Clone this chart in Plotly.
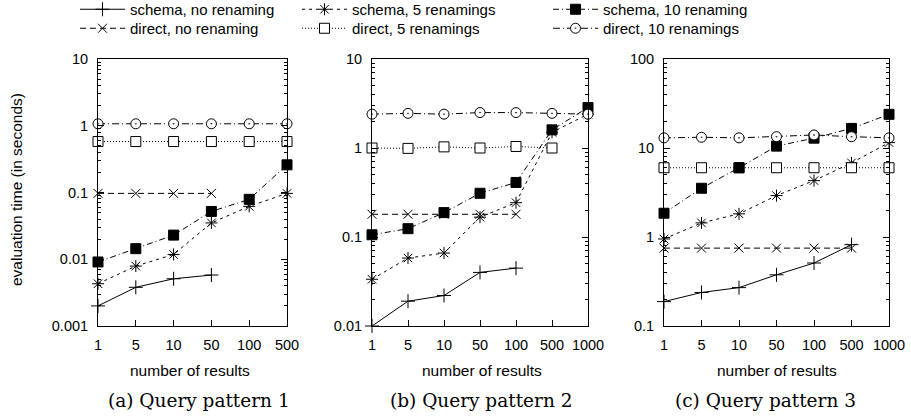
import plotly.graph_objects as go

# ---------------- data ----------------
cats_a = ["1", "5", "10", "50", "100", "500"]
cats_bc = ["1", "5", "10", "50", "100", "500", "1000"]

# panel (a)
schema_none_a = [0.002, 0.0038, 0.0051, 0.0058]
direct_none_a = [0.097, 0.097, 0.097, 0.097]
schema_5_a = [0.0043, 0.0079, 0.0118, 0.035, 0.062, 0.097]
direct_5_a = [0.58, 0.58, 0.58, 0.58, 0.58, 0.58]
schema_10_a = [0.0091, 0.0144, 0.023, 0.052, 0.079, 0.26]
direct_10_a = [1.07, 1.07, 1.07, 1.07, 1.07, 1.07]

# panel (b)
schema_none_b = [0.01, 0.019, 0.022, 0.040, 0.0447]
direct_none_b = [0.18, 0.18, 0.18, 0.18, 0.18]
schema_5_b = [0.0335, 0.058, 0.066, 0.167, 0.243, 1.5, 2.4]
direct_5_b = [1.0, 0.99, 1.03, 1.0, 1.04, 1.0]
schema_10_b = [0.106, 0.124, 0.188, 0.31, 0.41, 1.6, 2.85]
direct_10_b = [2.4, 2.45, 2.4, 2.5, 2.5, 2.45, 2.4]

# panel (c)
schema_none_c = [0.188, 0.238, 0.27, 0.376, 0.51, 0.82]
direct_none_c = [0.75, 0.75, 0.75, 0.75, 0.75, 0.75]
schema_5_c = [0.95, 1.44, 1.82, 2.92, 4.3, 6.8, 11.5]
direct_5_c = [6.0, 6.0, 6.0, 6.0, 6.0, 6.0, 6.0]
schema_10_c = [1.85, 3.53, 6.0, 10.5, 12.9, 16.6, 23.9]
direct_10_c = [13, 13.2, 13, 13.4, 14, 13.4, 13]

y_ticks_a = [0.001, 0.01, 0.1, 1, 10]
y_ticks_b = [0.01, 0.1, 1, 10]
y_ticks_c = [0.1, 1, 10, 100]
y_tick_text = {0.001: "0.001", 0.01: "0.01", 0.1: "0.1", 1: "1", 10: "10", 100: "100"}
captions = ["(a) Query pattern 1", "(b) Query pattern 2", "(c) Query pattern 3"]

# ---------------- styles ----------------
W, H = 911, 418
styles = {
    "schema, no renaming": dict(dash="solid", symbol="cross-thin", size=10, fill="black"),
    "direct, no renaming": dict(dash="6px,4px", symbol="x-thin", size=9, fill="black"),
    "schema, 5 renamings": dict(dash="3px,4px", symbol="asterisk", size=10, fill="black"),
    "direct, 5 renamings": dict(dash="1px,2px", symbol="square", size=10, fill="white"),
    "schema, 10 renaming": dict(dash="6px,3px,1px,3px", symbol="square", size=10, fill="black"),
    "direct, 10 renamings": dict(dash="7px,3px,1px,3px", symbol="circle-dot", size=10, fill="white"),
}
# one single-entry legend per series, placed in a 3x2 grid (x of legend box, y of row)
legend_pos = {
    "schema, no renaming": ("legend", 75, 8),
    "direct, no renaming": ("legend2", 75, 27),
    "schema, 5 renamings": ("legend3", 297, 8),
    "direct, 5 renamings": ("legend4", 297, 27),
    "schema, 10 renaming": ("legend5", 548, 8),
    "direct, 10 renamings": ("legend6", 548, 27),
}

panels = [
    (cats_a, {"schema, no renaming": schema_none_a, "direct, no renaming": direct_none_a,
              "schema, 5 renamings": schema_5_a, "direct, 5 renamings": direct_5_a,
              "schema, 10 renaming": schema_10_a, "direct, 10 renamings": direct_10_a},
     y_ticks_a, [-3, 1]),
    (cats_bc, {"schema, no renaming": schema_none_b, "direct, no renaming": direct_none_b,
               "schema, 5 renamings": schema_5_b, "direct, 5 renamings": direct_5_b,
               "schema, 10 renaming": schema_10_b, "direct, 10 renamings": direct_10_b},
     y_ticks_b, [-2, 1]),
    (cats_bc, {"schema, no renaming": schema_none_c, "direct, no renaming": direct_none_c,
               "schema, 5 renamings": schema_5_c, "direct, 5 renamings": direct_5_c,
               "schema, 10 renaming": schema_10_c, "direct, 10 renamings": direct_10_c},
     y_ticks_c, [-1, 2]),
]

xdomains = [[98 / W, 287 / W], [372 / W, 588 / W], [664 / W, 889 / W]]
ydomain = [1 - 326 / H, 1 - 59 / H]

fig = go.Figure()
order = ["schema, no renaming", "direct, no renaming", "schema, 5 renamings",
         "direct, 5 renamings", "schema, 10 renaming", "direct, 10 renamings"]

for pi, (cats, data, yt, yr) in enumerate(panels):
    xa = "x" if pi == 0 else f"x{pi + 1}"
    ya = "y" if pi == 0 else f"y{pi + 1}"
    for name in order:
        vals = data[name]
        st = styles[name]
        fig.add_trace(go.Scatter(
            x=list(range(len(vals))), y=vals, mode="lines+markers", name=name,
            xaxis=xa, yaxis=ya, cliponaxis=False, hoverinfo="skip",
            showlegend=(pi == 0), legend=legend_pos[name][0],
            line=dict(color="black", width=1, dash=st["dash"]),
            marker=dict(symbol=st["symbol"], size=st["size"], color=st["fill"],
                        line=dict(color="black", width=1)),
        ))

font_sans = "Liberation Sans, Arial, sans-serif"
FS = 14.5
FL = 15
layout = dict(
    width=W, height=H, margin=dict(l=0, r=0, t=0, b=0, autoexpand=False),
    paper_bgcolor="white", plot_bgcolor="white",
    font=dict(family=font_sans, size=FS, color="black"),
    showlegend=True, hovermode=False,
)

for pi, (cats, data, yt, yr) in enumerate(panels):
    sx = "" if pi == 0 else str(pi + 1)
    minor_vals = []
    for e in range(yr[0], yr[1]):
        for d in range(2, 10):
            minor_vals.append(d * 10 ** e)
    layout["xaxis" + sx] = dict(
        domain=xdomains[pi], anchor="y" + sx, range=[0, len(cats) - 1],
        tickmode="array", tickvals=list(range(len(cats))), ticktext=cats,
        ticks="inside", ticklen=6, tickwidth=1, tickcolor="black",
        showline=True, linecolor="black", linewidth=1, mirror=True,
        showgrid=False, zeroline=False, ticklabelstandoff=6, automargin=False,
        tickfont=dict(size=FS), fixedrange=True,
    )
    layout["yaxis" + sx] = dict(
        domain=ydomain, anchor="x" + sx, type="log", range=yr,
        tickmode="array", tickvals=yt, ticktext=[y_tick_text[v] for v in yt],
        ticks="inside", ticklen=6, tickwidth=1, tickcolor="black",
        minor=dict(tickmode="array", tickvals=minor_vals, ticks="inside", ticklen=3,
                   tickwidth=1, tickcolor="black", showgrid=False),
        showline=True, linecolor="black", linewidth=1, mirror="ticks",
        showgrid=False, zeroline=False, ticklabelstandoff=6, automargin=False,
        tickfont=dict(size=FS), fixedrange=True,
    )

for name, (lid, lx, ly) in legend_pos.items():
    layout[lid] = dict(orientation="v", xanchor="left", yanchor="top",
                       x=lx / W, y=1 + (15 - ly) / H, xref="paper", yref="paper",
                       bgcolor="rgba(0,0,0,0)", borderwidth=0, itemwidth=45,
                       font=dict(family=font_sans, size=FL), itemclick=False,
                       itemdoubleclick=False)

caption_cx = [199, 481, 765]
xtitle_cx = [190, 482, 777]
annotations = []
for pi in range(3):
    annotations.append(dict(x=xtitle_cx[pi] / W, y=1 - 370 / H, xref="paper", yref="paper",
                            xanchor="center", yanchor="middle",
                            text="number of results", showarrow=False,
                            font=dict(family=font_sans, size=15.5)))
    annotations.append(dict(x=caption_cx[pi] / W, y=1 - 400 / H, xref="paper", yref="paper",
                            xanchor="center", yanchor="middle",
                            text=captions[pi], showarrow=False,
                            font=dict(family="DejaVu Serif, serif", size=18.5)))
annotations.append(dict(x=16 / W, y=1 - 190 / H, xref="paper", yref="paper",
                        xanchor="center", yanchor="middle",
                        text="evaluation time (in seconds)", showarrow=False, textangle=-90,
                        font=dict(family=font_sans, size=15.5)))
layout["annotations"] = annotations

fig.update_layout(**layout)
fig.write_html("out.html", config={"displayModeBar": False, "staticPlot": False},
               post_script="document.body.style.margin='0px';document.body.style.padding='0px';")
